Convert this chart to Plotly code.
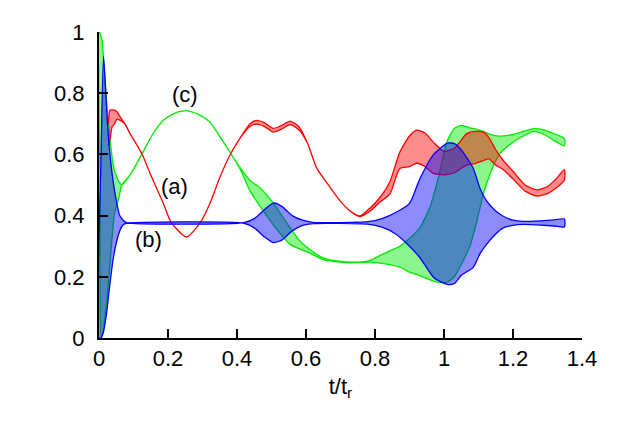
import plotly.graph_objects as go

# ---- data (envelopes of the oscillating curves) ----
red_t = [0.027, 0.032, 0.038, 0.045, 0.052, 0.06, 0.075, 0.09, 0.124, 0.148, 0.186, 0.21, 0.254,
         0.293, 0.322, 0.351, 0.382, 0.41, 0.438, 0.457, 0.48, 0.505, 0.53, 0.554, 0.58, 0.605,
         0.631, 0.665, 0.699, 0.73, 0.757, 0.786, 0.815, 0.843, 0.872, 0.90, 0.921, 0.945, 0.969,
         1.0, 1.03, 1.066, 1.09, 1.114, 1.13, 1.15, 1.172, 1.2, 1.235, 1.269, 1.30, 1.325, 1.349]
red_up = [0.70, 0.745, 0.745, 0.745, 0.74, 0.725, 0.70, 0.668, 0.603, 0.538, 0.441, 0.376, 0.33,
          0.376, 0.441, 0.527, 0.603, 0.655, 0.70, 0.711, 0.703, 0.685, 0.695, 0.709, 0.69, 0.635,
          0.555, 0.50, 0.448, 0.413, 0.399, 0.425, 0.46, 0.51, 0.608, 0.66, 0.679, 0.67, 0.64,
          0.61, 0.62, 0.668, 0.675, 0.673, 0.655, 0.615, 0.58, 0.545, 0.50, 0.484, 0.495, 0.52, 0.55]
red_lo = [0.63, 0.65, 0.69, 0.70, 0.715, 0.712, 0.70, 0.668, 0.603, 0.538, 0.441, 0.376, 0.33,
          0.376, 0.441, 0.527, 0.603, 0.655, 0.692, 0.699, 0.691, 0.673, 0.683, 0.697, 0.68, 0.635,
          0.555, 0.50, 0.448, 0.413, 0.397, 0.415, 0.445, 0.47, 0.554, 0.56, 0.571, 0.56, 0.538,
          0.533, 0.54, 0.566, 0.57, 0.58, 0.585, 0.565, 0.55, 0.52, 0.48, 0.464, 0.472, 0.49, 0.516]

green_t = [0.0, 0.003, 0.006, 0.009, 0.014, 0.018, 0.023, 0.028, 0.033, 0.038, 0.044, 0.05, 0.058,
           0.066, 0.09, 0.124, 0.155, 0.186, 0.22, 0.254, 0.29, 0.322, 0.351, 0.382, 0.41, 0.438,
           0.467, 0.505, 0.53, 0.554, 0.58, 0.61, 0.65, 0.70, 0.75, 0.786, 0.815, 0.843, 0.872,
           0.90, 0.93, 0.96, 0.985, 1.008, 1.03, 1.05, 1.075, 1.095, 1.114, 1.135, 1.16, 1.2,
           1.23, 1.26, 1.29, 1.32, 1.349]
green_up = [1.0, 0.995, 0.985, 0.97, 0.90, 0.835, 0.76, 0.695, 0.64, 0.59, 0.55, 0.53, 0.51,
            0.50, 0.533, 0.60, 0.665, 0.711, 0.735, 0.743, 0.73, 0.705, 0.657, 0.603, 0.555, 0.515,
            0.49, 0.441, 0.40, 0.36, 0.32, 0.29, 0.262, 0.25, 0.248, 0.254, 0.27, 0.285, 0.30,
            0.325, 0.36, 0.43, 0.53, 0.64, 0.685, 0.695, 0.687, 0.682, 0.675, 0.665, 0.66, 0.665,
            0.675, 0.684, 0.68, 0.667, 0.652]
green_lo = [1.0, 0.5, 0.005, 0.01, 0.03, 0.08, 0.12, 0.19, 0.26, 0.33, 0.40, 0.43, 0.46,
            0.50, 0.533, 0.60, 0.665, 0.711, 0.735, 0.743, 0.73, 0.705, 0.657, 0.603, 0.55, 0.48,
            0.43, 0.37, 0.335, 0.306, 0.292, 0.278, 0.256, 0.248, 0.246, 0.248, 0.245, 0.24, 0.232,
            0.215, 0.204, 0.19, 0.182, 0.182, 0.20, 0.24, 0.30, 0.38, 0.47, 0.54, 0.60, 0.64,
            0.66, 0.675, 0.665, 0.645, 0.628]

blue_t = [0.0, 0.006, 0.013, 0.018, 0.022, 0.03, 0.04, 0.05, 0.06, 0.07, 0.08, 0.42, 0.45, 0.48,
          0.505, 0.53, 0.56, 0.59, 0.62, 0.78, 0.82, 0.86, 0.90, 0.93, 0.97, 1.01, 1.03, 1.05,
          1.085, 1.104, 1.124, 1.15, 1.172, 1.2, 1.23, 1.28, 1.32, 1.349]
blue_up = [0.0, 0.6, 0.92, 0.84, 0.75, 0.62, 0.52, 0.45, 0.40, 0.385, 0.377, 0.377, 0.39, 0.42,
           0.441, 0.43, 0.40, 0.385, 0.378, 0.38, 0.39, 0.41, 0.44, 0.52, 0.60, 0.637, 0.635, 0.615,
           0.554, 0.49, 0.447, 0.415, 0.398, 0.385, 0.381, 0.383, 0.386, 0.389]
blue_lo = [0.0, 0.0, 0.02, 0.05, 0.08, 0.16, 0.25, 0.31, 0.35, 0.37, 0.375, 0.375, 0.36, 0.33,
           0.312, 0.32, 0.35, 0.368, 0.374, 0.372, 0.362, 0.34, 0.30, 0.263, 0.198, 0.175, 0.178,
           0.205, 0.231, 0.275, 0.307, 0.34, 0.36, 0.368, 0.371, 0.369, 0.366, 0.363]

x_ticks = [0, 0.2, 0.4, 0.6, 0.8, 1.0, 1.2, 1.4]
x_labels = ["0", "0.2", "0.4", "0.6", "0.8", "1", "1.2", "1.4"]
y_ticks = [0, 0.2, 0.4, 0.6, 0.8, 1.0]
y_labels = ["0", "0.2", "0.4", "0.6", "0.8", "1"]

curve_labels = ["(a)", "(b)", "(c)"]
label_t = [0.22, 0.143, 0.249]
label_y = [0.495, 0.323, 0.797]

FONT = "Liberation Sans, Arial, Helvetica, sans-serif"

fig = go.Figure()

def band(t, up, lo, line_color, fill_color):
    fig.add_trace(go.Scatter(
        x=list(t) + list(t)[::-1],
        y=list(up) + list(lo)[::-1],
        mode="lines", fill="toself", fillcolor=fill_color,
        line=dict(color=line_color, width=1.3, shape="spline", smoothing=0.6),
        hoverinfo="skip", showlegend=False))

band(green_t, green_up, green_lo, "rgb(0,235,0)", "rgba(0,235,0,0.45)")
band(red_t, red_up, red_lo, "rgb(255,0,0)", "rgba(255,0,0,0.45)")
band(blue_t, blue_up, blue_lo, "rgb(0,0,255)", "rgba(0,0,255,0.45)")

for txt, tx, ty in zip(curve_labels, label_t, label_y):
    fig.add_annotation(x=tx, y=ty, text=txt, showarrow=False,
                       font=dict(family=FONT, size=22, color="black"))

fig.update_layout(
    width=623, height=436,
    margin=dict(l=91, r=49, t=21, b=106),
    paper_bgcolor="white", plot_bgcolor="white",
    font=dict(family=FONT, size=22, color="black"),
    xaxis=dict(range=[0, 1.4], tickvals=x_ticks, ticktext=x_labels,
               ticks="inside", ticklen=9, tickwidth=1.5, tickcolor="black",
               showline=True, linecolor="black", linewidth=2, mirror=False,
               showgrid=False, zeroline=False, ticklabelstandoff=0,
               title=dict(text="t/t<sub>r</sub>", standoff=8,
                          font=dict(family=FONT, size=22))),
    yaxis=dict(range=[0, 1], tickvals=y_ticks, ticktext=y_labels,
               ticks="inside", ticklen=9, tickwidth=1.5, tickcolor="black",
               showline=True, linecolor="black", linewidth=2, mirror=False,
               showgrid=False, zeroline=False, ticklabelstandoff=8),
)

fig.write_html("out.html")
